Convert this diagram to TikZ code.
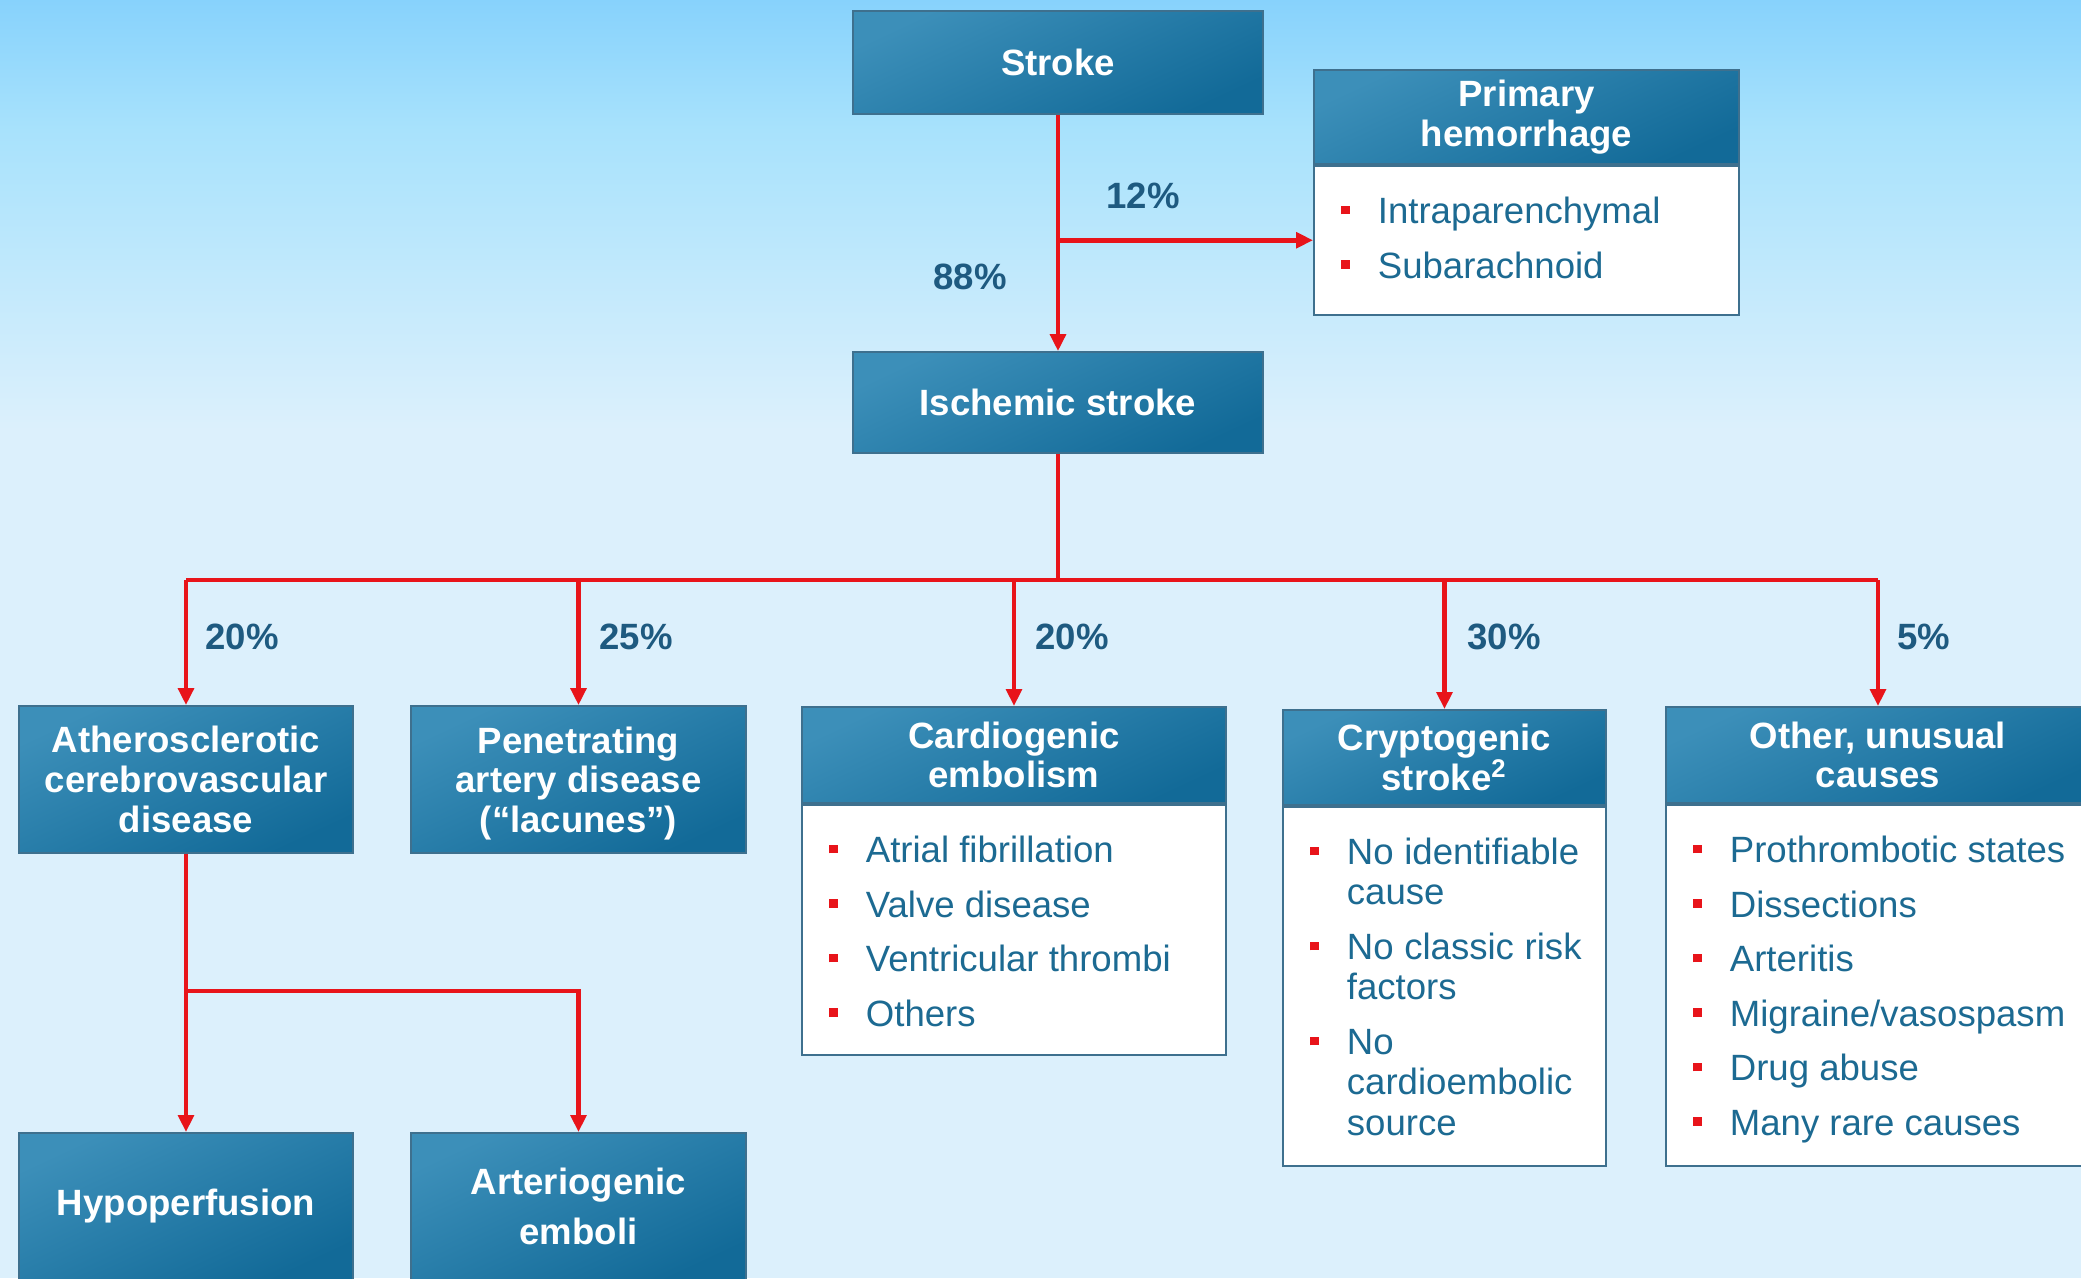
\documentclass[tikz,border=0pt]{standalone}
\usepackage{fontspec}
\setmainfont{Liberation Sans}
\usetikzlibrary{arrows.meta,positioning}

\definecolor{skytop}{RGB}{135,210,252}
\definecolor{skymid}{RGB}{168,226,252}
\definecolor{skylow}{RGB}{220,240,252}
\definecolor{headlight}{RGB}{60,143,185}
\definecolor{headdark}{RGB}{18,106,152}
\definecolor{boxedge}{RGB}{62,112,142}
\definecolor{listtext}{RGB}{28,106,146}
\definecolor{pcttext}{RGB}{30,90,128}
\definecolor{linkred}{RGB}{232,20,26}

\newcommand{\bsq}{\textcolor{linkred}{\rule[2.6pt]{2.5pt}{2.5pt}}}
\newcommand{\litem}[1]{\noindent\hangindent=18.2pt\hangafter=1\makebox[18.2pt][l]{\hspace*{7.8pt}\bsq}\strut#1\strut\par}
\newcommand{\lbody}[3]{\parbox[t][#2][t]{#1}{\raggedright\rightskip=4pt plus 3em\hyphenpenalty=10000\parskip=4pt\vspace*{4.4pt}#3}}

\tikzset{
  headbox/.style={draw=boxedge, line width=0.5pt, top color=headlight, bottom color=headdark,
    shading angle=25, text=white, font=\fontsize{10.4}{11.3}\selectfont\bfseries,
    align=center, inner sep=0pt},
  listbox/.style={draw=boxedge, line width=0.5pt, fill=white, text=listtext,
    font=\fontsize{10.4}{11.5}\selectfont, inner sep=0pt, anchor=north},
  pct/.style={text=pcttext, font=\fontsize{10.4}{11.6}\selectfont\bfseries},
  line/.style={draw=linkred, line width=1.3pt},
  link/.style={line, -{Triangle[width=4.4pt,length=4.8pt]}}
}

\begin{document}
\begin{tikzpicture}[x=0.01cm,y=-0.01cm]
\useasboundingbox (0,0) rectangle (2081,1278);
\clip (0,0) rectangle (2081,1278);
\shade[top color=skytop, bottom color=skymid] (0,0) rectangle (2081,130);
\shade[top color=skymid, bottom color=skylow] (0,130) rectangle (2081,430);
\fill[skylow] (0,430) rectangle (2081,1278);

% top part
\node[headbox, minimum width=4.10cm, minimum height=1.03cm] (stroke) at (1058,62.5) {Stroke};
\node[headbox, minimum width=4.10cm, minimum height=1.01cm] (ischemic) at (1058,402.5) {Ischemic stroke};
\node[headbox, minimum width=4.25cm, minimum height=0.94cm, anchor=north] (hemhead) at (1526.5,69) {Primary\\hemorrhage};
\node[listbox] (hemlist) at (hemhead.south) {\lbody{4.25cm}{1.49cm}{%
  \litem{Intraparenchymal}\litem{Subarachnoid}}};

\node[pct] (p12) at (1143,196) {12\%};
\node[pct] (p88) at (970,277) {88\%};

\draw[link] (stroke.south) -- (ischemic.north);
\draw[link] (stroke.south |- hemlist.west) -- (hemlist.west);

% second row
\node[headbox, minimum width=3.34cm, minimum height=1.47cm] (athero) at (186,779.5) {Atherosclerotic\\cerebrovascular\\disease};
\node[headbox, minimum width=3.35cm, minimum height=1.47cm] (penet) at (578.5,779.5) {Penetrating\\artery disease\\\smash{(“lacunes”)}};

\node[headbox, minimum width=4.24cm, minimum height=0.96cm, anchor=north] (cardio) at (1014,706) {Cardiogenic\\embolism};
\node[listbox] (cardiolist) at (cardio.south) {\lbody{4.24cm}{2.50cm}{%
  \litem{Atrial fibrillation}\litem{Valve disease}\litem{Ventricular thrombi}\litem{Others}}};

\node[headbox, minimum width=3.23cm, minimum height=0.95cm, anchor=north] (crypto) at (1444.5,709) {Cryptogenic\\stroke\textsuperscript{2}};
\node[listbox] (cryptolist) at (crypto.south) {\lbody{3.23cm}{3.59cm}{%
  \litem{No identifiable cause}\litem{No classic risk factors}\litem{No cardioembolic source}}};

\node[headbox, minimum width=4.24cm, minimum height=0.96cm, anchor=north] (other) at (1878,706) {Other, unusual\\causes};
\node[listbox] (otherlist) at (other.south) {\lbody{4.24cm}{3.61cm}{%
  \litem{Prothrombotic states}\litem{Dissections}\litem{Arteritis}\litem{Migraine/vasospasm}\litem{Drug abuse}\litem{Many rare causes}}};

\node[pct] (p20a) at (242,637) {20\%};
\node[pct] (p25) at (636,637) {25\%};
\node[pct] (p20b) at (1072,637) {20\%};
\node[pct] (p30) at (1504,637) {30\%};
\node[pct] (p5) at (1924,637) {5\%};

\coordinate (bus) at (1058,580);
\draw[line] (ischemic.south) -- (bus);
\draw[line] (athero.north |- bus) -- (other.north |- bus);
\foreach \n in {athero,penet,cardio,crypto,other}
  \draw[link] (\n.north |- bus) -- (\n.north);

% bottom row
\node[headbox, minimum width=3.34cm, minimum height=1.47cm, anchor=north] (hypo) at (186,1132) {Hypoperfusion};
\node[headbox, minimum width=3.35cm, minimum height=1.47cm, anchor=north] (arterio) at (578.5,1132) {Arteriogenic\\[3pt]emboli};

\coordinate (split) at (186,991);
\draw[link] (athero.south) -- (hypo.north);
\draw[link] (split) -| (arterio.north);
\end{tikzpicture}
\end{document}
